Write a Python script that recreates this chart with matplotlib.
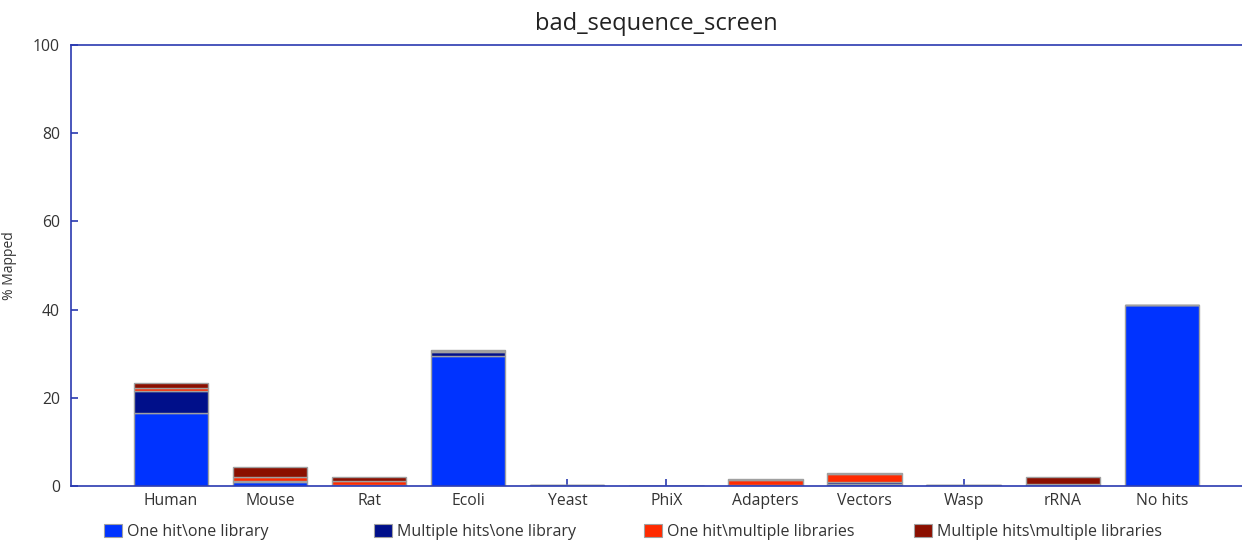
import matplotlib
matplotlib.use("Agg")
import matplotlib.pyplot as plt
from matplotlib.patches import Patch
import numpy as np

plt.rcParams['font.family'] = ['Open Sans', 'DejaVu Sans']

categories = ['Human', 'Mouse', 'Rat', 'Ecoli', 'Yeast', 'PhiX',
              'Adapters', 'Vectors', 'Wasp', 'rRNA', 'No hits']
one_hit_one_lib = [16.6, 1.0, 0.1, 29.4, 0.1, 0.0, 0.1, 0.5, 0.1, 0.2, 41.0]
multi_hits_one_lib = [5.0, 0.1, 0.05, 0.9, 0.1, 0.0, 0.05, 0.4, 0.1, 0.1, 0.0]
one_hit_multi_lib = [0.7, 0.9, 1.0, 0.2, 0.05, 0.0, 1.3, 1.8, 0.05, 0.2, 0.0]
multi_hits_multi_lib = [1.1, 2.2, 1.0, 0.3, 0.05, 0.0, 0.05, 0.2, 0.05, 1.6, 0.0]

series = [
    ("One hit\\one library", one_hit_one_lib, "#0033ff"),
    ("Multiple hits\\one library", multi_hits_one_lib, "#000f8a"),
    ("One hit\\multiple libraries", one_hit_multi_lib, "#ff2a00"),
    ("Multiple hits\\multiple libraries", multi_hits_multi_lib, "#8b0f00"),
]

spine_col = "#2a3ab0"
text_col = "#333333"

fig = plt.figure(figsize=(12.42, 5.42), dpi=100)
ax = fig.add_axes([71 / 1242, 1 - 486 / 542, 1171 / 1242, 441 / 542])

x = np.arange(len(categories))
bottom = np.zeros(len(categories))
for name, vals, col in series:
    vals = np.array(vals)
    ax.bar(x, vals, 0.75, bottom=bottom, color=col, edgecolor="#a0a0a0",
           linewidth=1, label=name, zorder=2)
    bottom += vals

ax.set_xlim(-1.01, 10.81)
ax.set_ylim(0, 100)
ax.set_xticks(x)
ax.set_xticklabels(categories)
ax.set_yticks([0, 20, 40, 60, 80, 100])
ax.tick_params(axis='both', direction='in', color=spine_col, length=5,
               width=1.2, labelsize=11.3, labelcolor=text_col)
ax.tick_params(axis='y', pad=8)
ax.tick_params(axis='x', pad=5)
for s in ['left', 'top', 'bottom']:
    ax.spines[s].set_color(spine_col)
    ax.spines[s].set_linewidth(1.2)
ax.spines['right'].set_visible(False)

ax.set_ylabel("% Mapped", fontsize=10, color=text_col)
ax.yaxis.set_label_coords(-54 / 1171, 0.5)
ax.set_title("bad_sequence_screen", fontsize=17, color="#222222", pad=11)

# legend entries spread evenly along the bottom
for i, (name, vals, col) in enumerate(series):
    h = Patch(facecolor=col, edgecolor="#a0a0a0", linewidth=0.8)
    leg = fig.legend([h], [name], loc='center left',
                     bbox_to_anchor=((96 + 270 * i) / 1242, 1 - 532 / 542),
                     frameon=False, fontsize=11.5, handlelength=1.1,
                     handleheight=0.8, handletextpad=0.35, borderpad=0)
    for t in leg.get_texts():
        t.set_color(text_col)

fig.savefig("out.png", dpi=100)
